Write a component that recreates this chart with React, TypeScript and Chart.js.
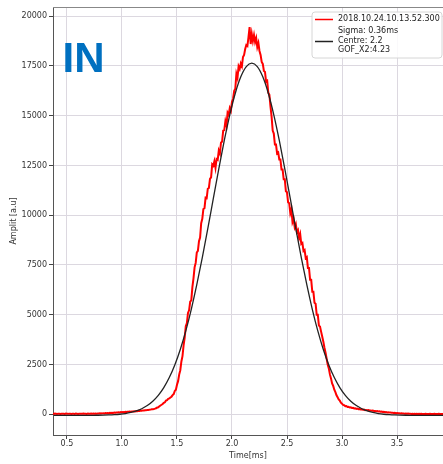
import React, { useEffect, useRef } from "react";
import { Chart, registerables } from "chart.js";

Chart.register(...registerables);

// ---- text ----
const RED_LABEL = "2018.10.24.10.13.52.300";
const FIT_LABEL = ["Sigma: 0.36ms", "Centre: 2.2", "GOF_X2:4.23"];
const PANEL_TEXT = "IN";
const X_TITLE = "Time[ms]";
const Y_TITLE = "Amplit [a.u]";

// ---- axes ----
const X_TICKS = [0.5, 1.0, 1.5, 2.0, 2.5, 3.0, 3.5];
const Y_TICKS = [0, 2500, 5000, 7500, 10000, 12500, 15000, 17500, 20000];
const X_MIN = 0.373;
const X_MAX = 3.918;
const Y_MIN = -1045;
const Y_MAX = 20460;

// ---- measured signal (sampled every 0.01 ms starting at 0.36 ms) ----
const RED_START = 0.36;
const RED_STEP = 0.01;
const redAmplitude = [
  18, 25, 12, 30, 22, 15, 28, 20, 10, 26,
  19, 24, 14, 31, 20, 17, 27, 22, 13, 25,
  21, 16, 29, 23, 12, 27, 19, 25, 18, 30,
  22, 28, 17, 33, 24, 20, 35, 26, 30, 22,
  34, 28, 40, 31, 45, 36, 42, 50, 38, 55,
  48, 60, 52, 66, 58, 72, 64, 80, 70, 88,
  82, 95, 90, 105, 98, 112, 104, 118, 110, 125,
  120, 132, 126, 140, 135, 150, 142, 158, 150, 168,
  160, 178, 172, 190, 185, 200, 195, 215, 210, 228,
  230, 248, 250, 262, 280, 300, 335, 350, 395, 440,
  475, 510, 570, 600, 690, 710, 770, 790, 840, 880,
  960, 1010, 1170, 1230, 1480, 1660, 1990, 2210, 2650, 2920,
  3460, 3850, 4420, 4580, 5090, 5220, 5650, 5720, 6380, 6820,
  7380, 7600, 8120, 8210, 8690, 8880, 9600, 9820, 10310, 10350,
  10880, 10860, 11330, 11370, 11820, 11900, 12550, 12480, 12710, 12380,
  12820, 12780, 13250, 13100, 13640, 13700, 14250, 14280, 14720, 14500,
  15150, 15050, 15380, 15250, 15700, 15850, 16250, 16350, 17100, 16900,
  17480, 17350, 17620, 17480, 17950, 18050, 18350, 18550, 18500, 18950,
  19450, 18600, 19100, 18750, 19050, 18700, 18900, 18450, 18650, 18250,
  18050, 17700, 17600, 17250, 17200, 16700, 16750, 16150, 16050, 15450,
  14950, 14250, 14100, 13550, 13550, 13100, 13150, 12800, 12800, 12300,
  12300, 11800, 11800, 11200, 11150, 10650, 10600, 10100, 10300, 9650,
  9800, 9400, 9550, 9150, 9250, 8850, 9050, 8550, 8600, 8200,
  8250, 7850, 7900, 7350, 7350, 6750, 6750, 6150, 6150, 5600,
  5550, 5000, 5000, 4450, 4400, 4150, 3900, 3650, 3350, 3100,
  2800, 2500, 2300, 2000, 1800, 1550, 1420, 1230, 1110, 950,
  850, 740, 680, 580, 530, 470, 450, 400, 410, 360,
  370, 335, 345, 310, 320, 290, 300, 270, 280, 250,
  260, 235, 245, 220, 230, 205, 215, 195, 205, 185,
  190, 170, 180, 160, 165, 150, 155, 140, 145, 125,
  130, 110, 120, 100, 105, 90, 95, 80, 85, 70,
  75, 60, 68, 52, 58, 44, 50, 38, 45, 32,
  38, 28, 34, 22, 30, 18, 26, 15, 24, 12,
  22, 10, 20, 14, 18, 9, 21, 12, 16, 8,
  19, 11, 15, 7, 18, 10, 14, 6, 17, 9,
  13, 5, 16, 8, 12, 6, 15, 9, 11, 7,
];

// ---- fitted curve ----
const fitTime = [
  0.38, 0.43, 0.48, 0.53, 0.58, 0.63, 0.68, 0.73, 0.78, 0.83,
  0.88, 0.93, 0.98, 1.03, 1.08, 1.13, 1.18, 1.23, 1.28, 1.33,
  1.38, 1.43, 1.48, 1.53, 1.58, 1.63, 1.68, 1.73, 1.78, 1.83,
  1.88, 1.93, 1.98, 2.03, 2.08, 2.13, 2.18, 2.23, 2.28, 2.33,
  2.38, 2.43, 2.48, 2.53, 2.58, 2.63, 2.68, 2.73, 2.78, 2.83,
  2.88, 2.93, 2.98, 3.03, 3.08, 3.13, 3.18, 3.23, 3.28, 3.33,
  3.38, 3.43, 3.48, 3.53, 3.58, 3.63, 3.68, 3.73, 3.78, 3.83,
  3.88, 3.93, 3.98,
];
const fitAmplitude = [
  -60, -60, -60, -60, -59, -59, -58, -56, -53, -47,
  -38, -24, -2, 33, 86, 163, 275, 433, 652, 947,
  1337, 1840, 2473, 3251, 4183, 5270, 6505, 7866, 9322, 10827,
  12326, 13753, 15043, 16128, 16952, 17465, 17640, 17465, 16952, 16128,
  15043, 13753, 12326, 10827, 9322, 7866, 6505, 5270, 4183, 3251,
  2473, 1840, 1337, 947, 652, 433, 275, 163, 86, 33,
  -2, -24, -38, -47, -53, -56, -58, -59, -59, -60,
  -60, -60, -60,
];

const FONT = '"DejaVu Sans", "Liberation Sans", sans-serif';

const decorPlugin = {
  id: "decor",
  afterDraw(chart: any) {
    const { ctx, chartArea: a } = chart;
    ctx.save();
    // top spine
    ctx.strokeStyle = "#888";
    ctx.lineWidth = 1;
    ctx.beginPath();
    ctx.moveTo(a.left, a.top + 0.5);
    ctx.lineTo(a.right, a.top + 0.5);
    ctx.stroke();

    // panel text
    ctx.fillStyle = "#0070c0";
    ctx.font = 'bold 42px "Liberation Sans", Arial, sans-serif';
    ctx.textBaseline = "alphabetic";
    ctx.textAlign = "left";
    ctx.fillText(PANEL_TEXT, a.left + 9.5, a.top + 65);

    // legend
    const L = a.right - 131;
    const T = a.top + 5;
    const W = 130;
    const H = 46;
    const r = 3;
    ctx.beginPath();
    ctx.moveTo(L + r, T);
    ctx.lineTo(L + W - r, T);
    ctx.quadraticCurveTo(L + W, T, L + W, T + r);
    ctx.lineTo(L + W, T + H - r);
    ctx.quadraticCurveTo(L + W, T + H, L + W - r, T + H);
    ctx.lineTo(L + r, T + H);
    ctx.quadraticCurveTo(L, T + H, L, T + H - r);
    ctx.lineTo(L, T + r);
    ctx.quadraticCurveTo(L, T, L + r, T);
    ctx.closePath();
    ctx.fillStyle = "rgba(255,255,255,0.85)";
    ctx.fill();
    ctx.strokeStyle = "#d6d6d6";
    ctx.lineWidth = 1;
    ctx.stroke();

    ctx.font = `8px ${FONT}`;
    ctx.textBaseline = "middle";
    ctx.fillStyle = "#222";
    let y = T + 6.5;
    const lh = 9.6;
    chart.data.datasets.forEach((ds: any) => {
      const lines: string[] = String(ds.label).split("\n");
      const mid = y + ((lines.length - 1) * lh) / 2;
      ctx.strokeStyle = ds.borderColor;
      ctx.lineWidth = 1.5;
      ctx.beginPath();
      ctx.moveTo(L + 3, Math.round(mid) + 0.5);
      ctx.lineTo(L + 21, Math.round(mid) + 0.5);
      ctx.stroke();
      lines.forEach((t, i) => {
        ctx.fillText(t, L + 26, y + i * lh);
      });
      y += lines.length * lh + 3;
    });
    ctx.restore();
  },
};

export default function App() {
  const ref = useRef<HTMLCanvasElement | null>(null);

  useEffect(() => {
    if (!ref.current) return;
    const redPoints = redAmplitude.map((v, i) => ({
      x: RED_START + i * RED_STEP,
      y: v,
    }));
    const fitPoints = fitTime.map((t, i) => ({ x: t, y: fitAmplitude[i] }));

    const chart = new Chart(ref.current, {
      type: "line",
      data: {
        datasets: [
          {
            label: RED_LABEL,
            data: redPoints,
            borderColor: "#ff0000",
            borderWidth: 2,
            pointRadius: 0,
            tension: 0,
            order: 1,
          },
          {
            label: FIT_LABEL.join("\n"),
            data: fitPoints,
            borderColor: "#222222",
            borderWidth: 1.3,
            pointRadius: 0,
            cubicInterpolationMode: "monotone",
            order: 0,
          },
        ],
      },
      options: {
        animation: false,
        responsive: false,
        events: [],
        layout: { padding: { top: 7, right: 0, left: 0, bottom: 0 } },
        plugins: {
          legend: { display: false },
          tooltip: { enabled: false },
          title: { display: false },
        },
        scales: {
          x: {
            type: "linear",
            min: X_MIN,
            max: X_MAX,
            afterBuildTicks: (s: any) => {
              s.ticks = X_TICKS.map((v) => ({ value: v }));
            },
            afterFit: (s: any) => {
              s.height = 29;
            },
            ticks: {
              autoSkip: false,
              maxRotation: 0,
              padding: 0,
              color: "#333",
              font: { family: FONT, size: 8 },
              callback: (v: any) => Number(v).toFixed(1),
            },
            grid: {
              color: "#dcd8e0",
              tickColor: "#444",
              tickLength: 4,
              lineWidth: 1,
            },
            border: { display: true, color: "#555", width: 1 },
            title: {
              display: true,
              text: X_TITLE,
              color: "#333",
              font: { family: FONT, size: 8 },
              padding: { top: 0, bottom: 3 },
            },
          },
          y: {
            type: "linear",
            min: Y_MIN,
            max: Y_MAX,
            afterBuildTicks: (s: any) => {
              s.ticks = Y_TICKS.map((v) => ({ value: v }));
            },
            afterFit: (s: any) => {
              s.width = 53;
            },
            ticks: {
              autoSkip: false,
              padding: 2,
              color: "#333",
              font: { family: FONT, size: 8 },
              callback: (v: any) => String(v),
            },
            grid: {
              color: "#dcd8e0",
              tickColor: "#444",
              tickLength: 4,
              lineWidth: 1,
            },
            border: { display: true, color: "#555", width: 1 },
            title: {
              display: true,
              text: Y_TITLE,
              color: "#333",
              font: { family: FONT, size: 8 },
              padding: { top: 9, bottom: 0 },
            },
          },
        },
      },
      plugins: [decorPlugin],
    } as any);

    return () => chart.destroy();
  }, []);

  return (
    <div
      style={{
        position: "fixed",
        left: 0,
        top: 0,
        width: 443,
        height: 464,
        overflow: "hidden",
        background: "#fff",
      }}
    >
      <canvas ref={ref} width={443} height={464} style={{ display: "block" }} />
    </div>
  );
}
